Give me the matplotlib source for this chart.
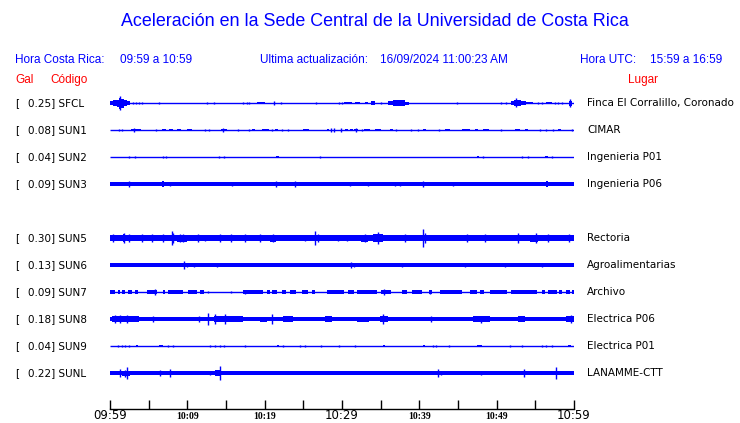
import matplotlib
matplotlib.use('Agg')
import matplotlib.pyplot as plt

# estaciones (de arriba hacia abajo), fila 4 queda vacia
codes = ['SFCL', 'SUN1', 'SUN2', 'SUN3', 'SUN5', 'SUN6', 'SUN7', 'SUN8', 'SUN9', 'SUNL']
peaks = ['0.25', '0.08', '0.04', '0.09', '0.30', '0.13', '0.09', '0.18', '0.04', '0.22']
places = ['Finca El Corralillo, Coronado', 'CIMAR', 'Ingenieria P01', 'Ingenieria P06',
          'Rectoria', 'Agroalimentarias', 'Archivo', 'Electrica P06', 'Electrica P01',
          'LANAMME-CTT']
slots = [0, 1, 2, 3, 5, 6, 7, 8, 9, 10]

# banda de ruido de fondo de cada traza
base = [0, 0, 0, 1.8, 2.9, 1.6, 0, 2.0, 0, 1.8]

# eventos: (minuto inicio, minuto fin, semi-amplitud)
ev_sfcl = [(0.0, 0.4, 1.7), (0.4, 0.85, 2.7), (0.85, 1.15, 3.5), (1.15, 1.45, 5.5), (1.35, 1.35, 7.3),
           (1.45, 1.75, 4.5), (1.75, 2.15, 3), (2.15, 2.6, 1.7), (3.0, 3.0, 1), (3.4, 3.4, 1),
           (3.7, 3.7, 1), (4.2, 4.2, 1), (6.4, 6.4, 1), (12.6, 12.6, 1.3), (13.4, 13.4, 1.3),
           (17.2, 17.2, 1.3), (17.7, 17.7, 1.3), (18.0, 18.0, 1.3), (19.0, 20.0, 1.3),
           (21.2, 21.2, 1.7), (22.1, 22.1, 1), (26.7, 26.7, 1), (29.6, 29.6, 1), (30.0, 30.0, 1),
           (30.3, 31.3, 1.3), (31.7, 32.3, 1), (33.0, 33.4, 1.3), (33.8, 34.3, 1.7), (35.0, 35.0, 1.3),
           (36.0, 36.6, 1.7), (36.6, 37.0, 2.7), (37.0, 37.4, 3.3), (37.4, 37.8, 2.7),
           (37.8, 38.2, 3.3), (38.2, 38.6, 1.5), (44.9, 44.9, 1), (50.6, 50.6, 1), (51.2, 51.2, 1.3),
           (51.8, 52.2, 2), (52.2, 52.7, 3.3), (52.5, 52.5, 4.5), (52.7, 53.1, 2.7), (53.1, 53.8, 2),
           (53.8, 54.7, 1.3), (55.3, 55.3, 1.3), (55.9, 55.9, 1.3), (56.4, 57.1, 1.3),
           (57.5, 57.5, 1), (57.9, 57.9, 1), (58.4, 58.4, 1), (59.3, 59.7, 2.5), (59.5, 59.5, 4)]
ev_sun1 = [(1.1, 1.1, 1), (1.5, 1.5, 0.7), (2.7, 3.3, 1.3), (3.1, 3.1, 2), (3.4, 4.0, 1), (5.9, 5.9, 1),
           (6.7, 7.3, 1), (7.6, 8.2, 1), (8.7, 9.2, 1), (9.9, 10.6, 1.2), (12.3, 12.3, 0.7),
           (12.8, 12.8, 0.7), (14.4, 15.1, 1.3), (14.6, 14.6, 2.3), (16.6, 16.6, 0.7), (18.0, 18.0, 1),
           (18.3, 18.8, 1), (19.6, 20.5, 1), (21.0, 21.0, 1), (21.4, 21.7, 1), (22.2, 22.2, 1),
           (23.0, 23.0, 1), (24.9, 25.7, 1), (28.0, 28.3, 1), (28.6, 28.6, 2), (29.0, 29.0, 1.7),
           (29.9, 29.9, 1.7), (30.4, 30.8, 1), (31.0, 31.4, 1.3), (31.6, 32.1, 1.3), (31.8, 31.8, 2),
           (32.6, 32.6, 1), (32.9, 33.6, 1), (34.3, 35.0, 1), (36.2, 36.6, 1), (37.0, 37.0, 0.7),
           (38.9, 38.9, 1), (39.8, 39.8, 1), (40.5, 40.9, 1), (42.6, 42.6, 0.7), (43.3, 44.0, 1),
           (45.5, 46.6, 1), (47.2, 47.6, 1.3), (48.2, 49.0, 1), (50.6, 50.6, 0.7), (52.4, 53.0, 1),
           (53.7, 54.1, 1), (55.6, 55.6, 0.7), (56.4, 56.4, 0.7), (57.3, 57.3, 1), (57.9, 58.3, 1),
           (59.7, 59.7, 1.3)]
ev_sun2 = [(2.4, 2.4, 1), (3.2, 3.2, 0.7), (6.8, 6.8, 1), (7.2, 7.2, 0.7), (14.1, 14.1, 1),
           (14.8, 14.8, 0.7), (21.5, 21.9, 1), (27.1, 27.1, 0.7), (47.4, 47.7, 1), (48.2, 48.2, 0.7),
           (53.3, 53.3, 1), (54.1, 54.1, 0.7), (56.3, 56.6, 1), (57.1, 57.1, 0.7)]
ev_sun3 = [(2.4, 2.4, 3), (6.7, 7.0, 2.7), (7.8, 7.8, 2), (15.8, 15.8, 2), (21.5, 21.5, 2.7),
           (23.9, 23.9, 2.7), (31.0, 31.0, 2), (33.4, 33.4, 2), (36.8, 36.8, 2), (37.5, 37.5, 2),
           (40.5, 40.5, 2.7), (44.4, 44.4, 2), (56.4, 56.6, 2.7)]
ev_sun5 = [(0.4, 0.4, 4), (1.7, 2.0, 3.6), (1.85, 1.85, 4.7), (2.5, 2.5, 4), (4.1, 4.1, 4), (5.0, 5.8, 3.4),
           (5.4, 5.4, 4), (6.5, 7.3, 3.4), (6.9, 6.9, 4), (7.97, 7.97, 7.3), (8.2, 8.2, 4.7),
           (8.6, 9.9, 3.5), (9.0, 9.0, 4.3), (9.5, 9.5, 4.3), (11.4, 11.4, 4.3), (12.3, 12.3, 3.3),
           (13.6, 14.9, 3.4), (14.2, 14.2, 4), (15.7, 15.7, 4), (17.4, 17.4, 4.3), (19.4, 19.4, 4),
           (20.7, 21.5, 3.5), (21.1, 21.1, 4.3), (25.2, 25.2, 3.3), (26.5, 26.5, 6.7), (26.9, 26.9, 4),
           (29.5, 29.5, 3.3), (30.6, 30.6, 3.3), (32.5, 33.4, 3.5), (33.0, 33.0, 4.3), (34.0, 35.3, 3.6),
           (34.7, 34.7, 6), (38.1, 38.1, 3.7), (40.5, 40.5, 9.3), (40.7, 40.7, 5.3), (42.4, 43.6, 3.2),
           (46.1, 46.1, 3.7), (48.5, 48.5, 4.3), (49.3, 50.0, 3.3), (52.8, 52.8, 5.3), (54.3, 55.3, 3.5),
           (55.1, 55.1, 5.3), (56.2, 57.1, 3.4), (56.6, 56.6, 4), (58.4, 59.9, 3.4), (59.3, 59.3, 4)]
ev_sun6 = [(9.6, 9.6, 4.3), (9.9, 9.9, 2.3), (10.8, 10.8, 2), (13.9, 14.0, 2), (31.2, 31.2, 2.7),
           (31.6, 31.6, 2), (37.7, 37.7, 2), (39.0, 39.3, 2), (45.9, 45.9, 2.3), (51.1, 51.1, 2.3),
           (55.8, 55.8, 2)]
ev_sun7 = [(0.0, 0.65, 1.7), (1.07, 1.29, 1.7), (1.5, 1.94, 1.7), (2.37, 2.8, 1.7), (3.23, 3.66, 1.7),
           (4.74, 6.03, 1.7), (5.8, 5.8, 2.7), (6.9, 7.1, 1.7), (7.54, 9.48, 1.7), (10.1, 11.2, 1.7),
           (11.6, 12.1, 1.7), (12.7, 12.7, 1), (15.7, 15.7, 1), (17.2, 19.8, 1.7), (17.4, 17.4, 2.3),
           (20.3, 20.7, 1.7), (20.9, 21.6, 1.7), (22.2, 22.8, 1.7), (23.3, 24.1, 1.7), (24.8, 25.6, 1.7),
           (26.1, 26.5, 1.7), (28.0, 30.2, 1.7), (30.8, 31.5, 1.7), (31.9, 33.6, 1.7), (33.6, 34.5, 1.7),
           (35.1, 36.4, 1.7), (35.4, 35.4, 2.7), (37.7, 38.4, 1.7), (39.0, 40.3, 1.7), (41.2, 41.6, 1.7),
           (41.4, 41.4, 2.3), (42.7, 45.5, 1.7), (46.6, 47.4, 1.7), (47.8, 48.3, 1.7), (49.1, 51.3, 1.7),
           (51.9, 55.2, 1.7), (55.8, 56.2, 1.7), (56.7, 57.8, 1.7), (58.1, 58.4, 1.7), (59.0, 59.5, 1.7),
           (59.7, 60.0, 1.7)]
ev_sun8 = [(0.2, 3.7, 2.6), (0.6, 0.6, 4), (1.3, 1.3, 4), (2.2, 2.2, 3.7), (4.3, 7.5, 2.4), (5.5, 5.5, 3),
           (10.1, 12.5, 2.4), (11.5, 11.5, 3), (12.7, 12.7, 5.7), (13.4, 17.2, 2.6), (13.6, 13.6, 4.7),
           (14.9, 14.9, 4.7), (16.0, 17.2, 3.2), (19.4, 20.3, 2.5), (20.9, 20.9, 4.7), (22.4, 23.7, 2.6),
           (27.8, 28.7, 2.6), (32.0, 33.5, 2.5), (34.9, 36.0, 3.2), (35.3, 35.3, 5.3), (38.8, 42.2, 2.4),
           (41.5, 41.5, 3.3), (47.0, 49.1, 2.8), (48.0, 48.0, 3.5), (52.8, 53.6, 2.6), (55.3, 56.6, 2.3),
           (59.0, 60.0, 3.2), (59.6, 59.6, 4)]
ev_sun9 = [(1.0, 1.0, 1), (1.5, 1.5, 1), (1.9, 1.9, 1), (2.5, 2.5, 1), (3.3, 3.6, 1), (6.3, 6.9, 1),
           (7.5, 7.5, 1), (8.1, 8.1, 1), (12.9, 12.9, 1), (13.6, 13.7, 1), (14.2, 14.2, 1), (14.8, 14.8, 1),
           (17.4, 17.4, 1), (21.6, 21.9, 1), (22.4, 22.4, 1), (24.6, 24.6, 1), (25.2, 25.2, 1),
           (27.3, 27.3, 1), (29.6, 29.6, 1), (31.7, 31.7, 1), (35.3, 35.6, 1), (40.5, 40.7, 1),
           (41.8, 41.9, 1), (42.2, 42.2, 1), (43.9, 43.9, 1), (47.5, 48.1, 1), (51.7, 51.7, 1),
           (53.3, 53.3, 1), (55.9, 55.9, 1), (56.4, 56.4, 1), (57.1, 57.1, 1), (59.2, 59.6, 1)]
ev_sunl = [(1.3, 1.3, 4), (1.5, 2.6, 2.5), (2.0, 2.0, 3.5), (2.2, 2.2, 6), (6.5, 6.5, 3.3),
           (7.8, 7.8, 4), (12.9, 12.9, 2.3), (13.6, 14.2, 2.6), (14.2, 14.2, 6.7), (14.5, 15.5, 2.2),
           (42.4, 42.4, 4), (42.8, 42.8, 2.3), (48.0, 48.0, 2.3), (53.5, 53.5, 4), (57.7, 57.7, 6)]
events = [ev_sfcl, ev_sun1, ev_sun2, ev_sun3, ev_sun5, ev_sun6, ev_sun7, ev_sun8, ev_sun9, ev_sunl]

# eje de tiempo: etiquetas grandes cada 30 min, pequenas cada 10 min
major_min = [0, 30, 60]
major_lab = ['09:59', '10:29', '10:59']
minor_min = [5, 10, 15, 20, 25, 35, 40, 45, 50, 55]
minor_lab = ['', '10:09', '', '10:19', '', '', '10:39', '', '10:49', '']

BLUE = '#0000ff'
RED = '#ff0000'
W, H = 740, 423

fig = plt.figure(figsize=(W / 100, H / 100), dpi=100)
fig.patch.set_facecolor('white')


def ftext(x, y, s, **kw):
    # texto en coordenadas de pixel de la figura
    fig.text(x / W, 1 - y / H, s, **kw)


ax = fig.add_axes([110 / W, (H - 409) / H, 464 / W, (409 - 92) / H])
ax.set_xlim(0, 60)
ax.set_ylim(409, 92)  # eje y en pixeles desde arriba
for s in ['top', 'left', 'right']:
    ax.spines[s].set_visible(False)
ax.spines['bottom'].set_linewidth(1.0)
ax.set_yticks([])
ax.set_xticks(major_min)
ax.set_xticklabels(major_lab, fontsize=8.5, family='DejaVu Sans')
ax.set_xticks(minor_min, minor=True)
ax.set_xticklabels(minor_lab, minor=True, fontsize=7, family='Liberation Serif', fontweight='bold')
ax.tick_params(axis='x', which='major', direction='in', length=6.5, width=1.0, pad=0)
ax.tick_params(axis='x', which='minor', direction='in', length=6.5, width=1.0, pad=2)

for k in range(len(codes)):
    y0 = 103 + 27 * slots[k]
    ax.plot([0, 60], [y0, y0], color=BLUE, lw=1.0, solid_capstyle='butt')
    if base[k] > 0:
        ax.fill_between([0, 60], y0 - base[k], y0 + base[k], color=BLUE, lw=0)
    for t0, t1, h in events[k]:
        if t1 - t0 < 0.15:
            ax.vlines(t0, y0 - h, y0 + h, color=BLUE, lw=1.0)
        else:
            ax.fill_between([t0, t1], y0 - h, y0 + h, color=BLUE, lw=0)

    ftext(15, y0, '[', fontsize=7.5, va='center', family='DejaVu Sans')
    ftext(27.5, y0, peaks[k] + '] ' + codes[k], fontsize=7.5, va='center', family='DejaVu Sans')
    ftext(587, y0, places[k], fontsize=7.5, va='center', family='DejaVu Sans')

ftext(375, 22, 'Aceleración en la Sede Central de la Universidad de Costa Rica',
      ha='center', va='center', color=BLUE, fontsize=12.9, family='Liberation Sans')
hdr = dict(va='center', color=BLUE, fontsize=8.5, family='Liberation Sans')
ftext(15, 60, 'Hora Costa Rica:', **hdr)
ftext(120, 60, '09:59 a 10:59', **hdr)
ftext(260, 60, 'Ultima actualización:', **hdr)
ftext(380, 60, '16/09/2024 11:00:23 AM', **hdr)
ftext(580, 60, 'Hora UTC:', **hdr)
ftext(650, 60, '15:59 a 16:59', **hdr)
red = dict(va='center', color=RED, fontsize=8.5, family='Liberation Sans')
ftext(15, 80, 'Gal', **red)
ftext(50, 80, 'Código', **red)
ftext(628, 80, 'Lugar', **red)

fig.savefig('out.png', dpi=100)
